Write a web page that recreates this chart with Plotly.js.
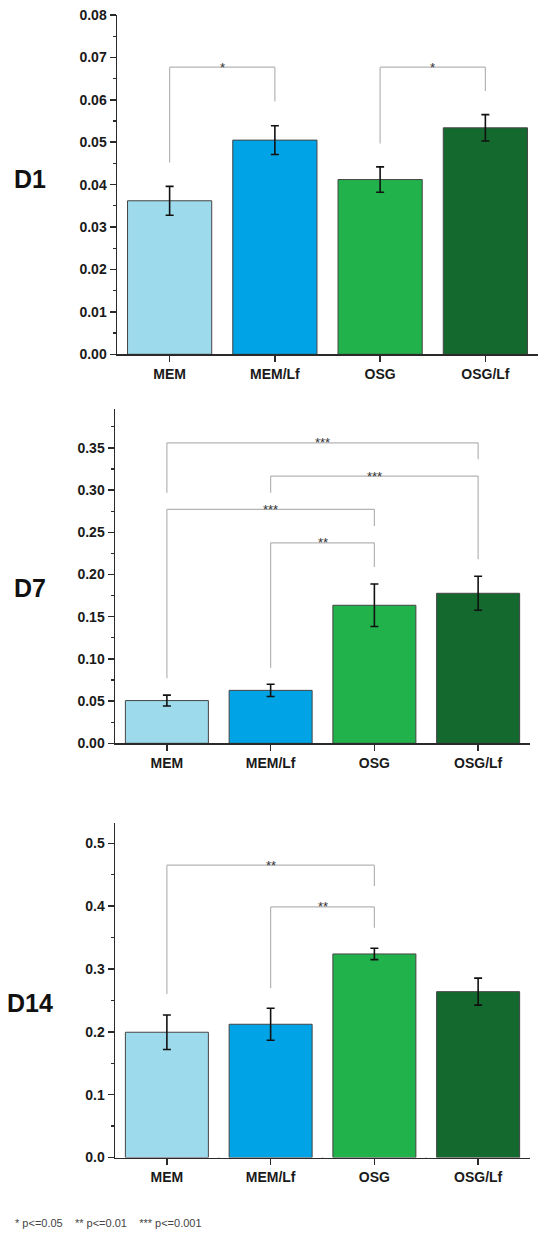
<!DOCTYPE html>
<html>
<head>
<meta charset="utf-8">
<script src="https://cdn.plot.ly/plotly-3.0.1.min.js"></script>
<style>html,body{margin:0;padding:0;background:#fff;}#chart{width:550px;height:1239px;}</style>
</head>
<body>
<div id="chart"></div>
<script>
// ---- data ----
const categories = ['MEM', 'MEM/Lf', 'OSG', 'OSG/Lf'];
const barColors = ['#9DDAEB', '#00A4E6', '#22B24C', '#146A2E'];

const panelLabels = ['D1', 'D7', 'D14'];

const d1Means  = [0.0362, 0.0505, 0.0412, 0.0534];
const d1Errors = [0.0034, 0.0034, 0.0030, 0.0031];

const d7Means  = [0.0506, 0.0627, 0.1635, 0.1777];
const d7Errors = [0.0065, 0.0073, 0.0252, 0.0201];

const d14Means  = [0.1994, 0.2121, 0.3240, 0.2640];
const d14Errors = [0.0274, 0.0255, 0.0090, 0.0215];

// brackets: [fromIndex, toIndex, lineLevel, leftLegEnd, rightLegEnd, label]
const d1Brackets = [
  [0, 1, 0.0677, 0.0452, 0.0596, '*'],
  [2, 3, 0.0677, 0.0497, 0.0621, '*']
];
const d7Brackets = [
  [0, 3, 0.3559, 0.2967, 0.3366, '***'],
  [1, 3, 0.3165, 0.2967, 0.2179, '***'],
  [0, 2, 0.2771, 0.0770, 0.2573, '***'],
  [1, 2, 0.2375, 0.0895, 0.2087, '**']
];
const d14Brackets = [
  [0, 2, 0.4653, 0.2604, 0.4323, '**'],
  [1, 2, 0.3989, 0.2694, 0.3659, '**']
];

const footnote = '* p<=0.05\u00a0\u00a0\u00a0\u00a0** p<=0.01\u00a0\u00a0\u00a0\u00a0*** p<=0.001';

// ---- layout helpers ----
const W = 550, H = 1239;
const panels = [
  {means: d1Means, errs: d1Errors, brackets: d1Brackets, range: [0, 0.08], dtick: 0.01, fmt: '.2f',
   px: [117, 538], py: [15, 354.3], labelY: 179, labelX: 12},
  {means: d7Means, errs: d7Errors, brackets: d7Brackets, range: [0, 0.396], dtick: 0.05, fmt: '.2f',
   px: [115, 530], py: [409, 743.3], labelY: 588, labelX: 12},
  {means: d14Means, errs: d14Errors, brackets: d14Brackets, range: [0, 0.532], dtick: 0.1, fmt: '.1f',
   px: [115, 530], py: [823.3, 1157.5], labelY: 1003, labelX: 5}
];

const tickFont = {family: 'Arial, "Liberation Sans", sans-serif', size: 14, color: '#1a1a1a', weight: 'bold'};
const axisColor = '#2a2a2a';
const traces = [];
const shapes = [];
const annotations = [];
const layout = {
  width: W, height: H,
  margin: {l: 0, r: 0, t: 0, b: 0},
  paper_bgcolor: '#ffffff', plot_bgcolor: '#ffffff',
  showlegend: false,
  bargap: 0.2
};

panels.forEach((p, k) => {
  const n = k === 0 ? '' : String(k + 1);
  const xa = 'x' + n, ya = 'y' + n;
  traces.push({
    type: 'bar', x: categories, y: p.means, xaxis: xa, yaxis: ya,
    width: 0.8,
    marker: {color: barColors, line: {color: '#444', width: 1}},
    error_y: {type: 'data', array: p.errs, visible: true, color: '#111', thickness: 1.6, width: 4},
    hoverinfo: 'skip'
  });
  layout['xaxis' + n] = {
    domain: [p.px[0] / W, p.px[1] / W], anchor: ya,
    type: 'category', range: [-0.5, 3.5], fixedrange: true,
    showline: true, linecolor: axisColor, linewidth: 1.5,
    ticks: 'outside', ticklen: 6, tickwidth: 1.5, tickcolor: axisColor,
    tickfont: tickFont, showgrid: false, zeroline: false
  };
  layout['yaxis' + n] = {
    domain: [1 - p.py[1] / H, 1 - p.py[0] / H], anchor: xa,
    range: p.range, dtick: p.dtick, tick0: 0, tickformat: p.fmt, fixedrange: true,
    showline: true, linecolor: axisColor, linewidth: 1.5,
    ticks: 'outside', ticklen: 6, tickwidth: 1.5, tickcolor: axisColor,
    minor: {dtick: p.dtick / 2, ticks: 'outside', ticklen: 3, tickwidth: 1.2, tickcolor: axisColor, showgrid: false},
    tickfont: tickFont, showgrid: false, zeroline: false
  };
  // minor x ticks at category boundaries
  for (let i = 0; i < categories.length; i++) {
    shapes.push({type: 'line', xref: xa, yref: ya, x0: i + 0.5, x1: i + 0.5,
      ysizemode: 'pixel', yanchor: 0, y0: 0, y1: -3.5, line: {color: axisColor, width: 1.2}});
  }
  // significance brackets
  p.brackets.forEach(b => {
    const [a, c, lvl, l1, l2, txt] = b;
    const lc = {color: '#b4b4b4', width: 1.2};
    shapes.push({type: 'line', xref: xa, yref: ya, x0: a, x1: c, y0: lvl, y1: lvl, line: lc});
    shapes.push({type: 'line', xref: xa, yref: ya, x0: a, x1: a, y0: lvl, y1: l1, line: lc});
    shapes.push({type: 'line', xref: xa, yref: ya, x0: c, x1: c, y0: lvl, y1: l2, line: lc});
    annotations.push({xref: xa, yref: ya, x: (a + c) / 2, y: lvl, text: txt, showarrow: false,
      xanchor: 'center', yanchor: 'middle', yshift: 0,
      font: {family: 'Arial, "Liberation Sans", sans-serif', size: 13, color: '#333'}});
  });
  // panel label
  annotations.push({xref: 'paper', yref: 'paper', x: p.labelX / W, y: 1 - p.labelY / H,
    text: panelLabels[k], showarrow: false, xanchor: 'left', yanchor: 'middle',
    font: {family: 'Arial, "Liberation Sans", sans-serif', size: 25, color: '#111', weight: 'bold'}});
});

annotations.push({xref: 'paper', yref: 'paper', x: 13 / W, y: 1 - 1223 / H, text: footnote,
  showarrow: false, xanchor: 'left', yanchor: 'middle',
  font: {family: 'Arial, "Liberation Sans", sans-serif', size: 11, color: '#444'}});

layout.shapes = shapes;
layout.annotations = annotations;

Plotly.newPlot('chart', traces, layout, {displayModeBar: false, staticPlot: true});
</script>
</body>
</html>
